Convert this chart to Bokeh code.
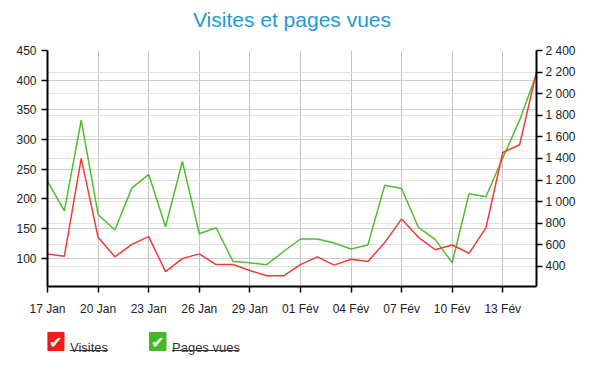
import pandas as pd
from bokeh.plotting import figure
from bokeh.models import Range1d, LinearAxis, FixedTicker, Grid, ColumnDataSource, Title
from bokeh.layouts import column
from bokeh.embed import file_html
from bokeh.resources import INLINE
from bokeh.core.properties import value

# ---------------- data ----------------
dates = pd.date_range("2013-01-17", "2013-02-15", freq="D")
visites = [107, 103, 268, 135, 102, 123, 136, 77, 99, 107,
           89, 89, 79, 70, 70, 89, 102, 88, 98, 94,
           126, 166, 135, 114, 122, 108, 151, 278, 291, 414]
pages_vues = [1189, 914, 1755, 881, 737, 1125, 1253, 767, 1372, 703,
              758, 446, 434, 416, 538, 654, 654, 617, 562, 599,
              1152, 1122, 761, 648, 434, 1073, 1046, 1404, 1755, 2183]
x_tick_labels = ["17 Jan", "20 Jan", "23 Jan", "26 Jan", "29 Jan",
                 "01 Fév", "04 Fév", "07 Fév", "10 Fév", "13 Fév"]
left_ticks = [100, 150, 200, 250, 300, 350, 400, 450]
right_ticks = [400, 600, 800, 1000, 1200, 1400, 1600, 1800, 2000, 2200, 2400]
right_tick_labels = ["400", "600", "800", "1 000", "1 200", "1 400",
                     "1 600", "1 800", "2 000", "2 200", "2 400"]
left_range = (52, 450)
right_range = (214, 2400)
series_names = ["Visites", "Pages vues"]
series_colors = ["#f23a3a", "#4fbe2e"]
box_colors = ["#ee1c1c", "#46b823"]

# ---------------- main chart ----------------
days = [int(d) for d in (dates - dates[0]).days]
x_ticks = days[::3]
src = ColumnDataSource(dict(x=days, v=visites, pv=pages_vues))

FONT = "Liberation Sans"
BL, BR = 47, 64
p = figure(width=600, height=318, output_backend="svg", toolbar_location=None,
           x_range=Range1d(days[0], days[-1]), y_range=Range1d(*left_range),
           min_border_left=BL, min_border_right=BR, min_border_top=0,
           min_border_bottom=30, background_fill_color="white",
           border_fill_color="white")
p.outline_line_color = None
p.extra_y_ranges = {"pv": Range1d(*right_range)}

# blank spacer between the title and the plot area
p.add_layout(Title(text=" ", text_font_size="10px", standoff=2), "above")

p.title.text = "Visites et pages vues"
p.title.align = "center"
p.title.text_font = FONT
p.title.text_font_size = "21px"
p.title.text_font_style = "normal"
p.title.text_color = "#1d9ad6"
p.title.standoff = 10

def style_axis(ax, standoff):
    ax.axis_line_color = "black"
    ax.axis_line_width = 2
    ax.major_tick_line_color = "black"
    ax.major_tick_line_width = 1.5
    ax.major_tick_out = 6
    ax.major_tick_in = 0
    ax.minor_tick_line_color = None
    ax.major_label_text_font = FONT
    ax.major_label_text_font_size = "12px"
    ax.major_label_text_color = "#222222"
    ax.major_label_standoff = standoff

xa = p.xaxis[0]
xa.ticker = FixedTicker(ticks=x_ticks)
xa.major_label_overrides = {t: l for t, l in zip(x_ticks, x_tick_labels)}
style_axis(xa, 9)

ya = p.yaxis[0]
ya.ticker = FixedTicker(ticks=left_ticks)
style_axis(ya, 5)

ra = LinearAxis(y_range_name="pv", ticker=FixedTicker(ticks=right_ticks),
                major_label_overrides={t: l for t, l in zip(right_ticks, right_tick_labels)})
style_axis(ra, 3)
p.add_layout(ra, "right")

p.xgrid.ticker = FixedTicker(ticks=x_ticks)
p.xgrid.grid_line_color = "#c4c4c4"
p.ygrid.ticker = FixedTicker(ticks=left_ticks)
p.ygrid.grid_line_color = "#cfcfcf"
rg = Grid(dimension=1, ticker=FixedTicker(ticks=right_ticks), y_range_name="pv",
          grid_line_color="#e2e2e2")
p.add_layout(rg)

p.line("x", "pv", source=src, y_range_name="pv", line_color=series_colors[1], line_width=1.5)
p.line("x", "v", source=src, line_color=series_colors[0], line_width=1.5)

# ---------------- legend strip ----------------
# (frames in a column are aligned with the chart frame, so map page pixels)
lg = figure(width=600, height=54, output_backend="svg", toolbar_location=None,
            x_range=Range1d(BL, 600 - BR), y_range=Range1d(54, 0),
            x_axis_type=None, y_axis_type=None,
            min_border_left=BL, min_border_right=BR, min_border_top=0,
            min_border_bottom=0,
            background_fill_color="white", border_fill_color="white")
lg.outline_line_color = None
lg.grid.visible = False

box_left = [47, 149]
box_w, box_h = 16.5, 18
box_top = 14
underline_w = [38, 66]
lsrc = ColumnDataSource(dict(
    left=box_left,
    right=[b + box_w for b in box_left],
    top=[box_top] * 2,
    bottom=[box_top + box_h] * 2,
    color=box_colors,
    cx=[b + box_w / 2 for b in box_left],
    cy=[box_top + box_h / 2 + 1] * 2,
    tx=[b + box_w + 6 for b in box_left],
    ty=[box_top + 15] * 2,
    label=series_names,
    ux0=[b + box_w + 6 for b in box_left],
    ux1=[b + box_w + 6 + w for b, w in zip(box_left, underline_w)],
    uy=[box_top + 18] * 2,
))
lg.quad(left="left", right="right", top="top", bottom="bottom", source=lsrc,
        fill_color="color", line_color="color")
lg.text(x="cx", y="cy", text=value("\u2714"), source=lsrc, text_color="white",
        text_font=value("DejaVu Sans"), text_font_size="16px",
        text_align="center", text_baseline="middle")
lg.text(x="tx", y="ty", text="label", source=lsrc, text_color="#333333",
        text_font=value(FONT), text_font_size="13px",
        text_align="left", text_baseline="alphabetic")
lg.segment(x0="ux0", y0="uy", x1="ux1", y1="uy", source=lsrc,
           line_color="#333333", line_width=1)

layout = column(p, lg, spacing=0)
open("out.html", "w").write(file_html(layout, INLINE))
